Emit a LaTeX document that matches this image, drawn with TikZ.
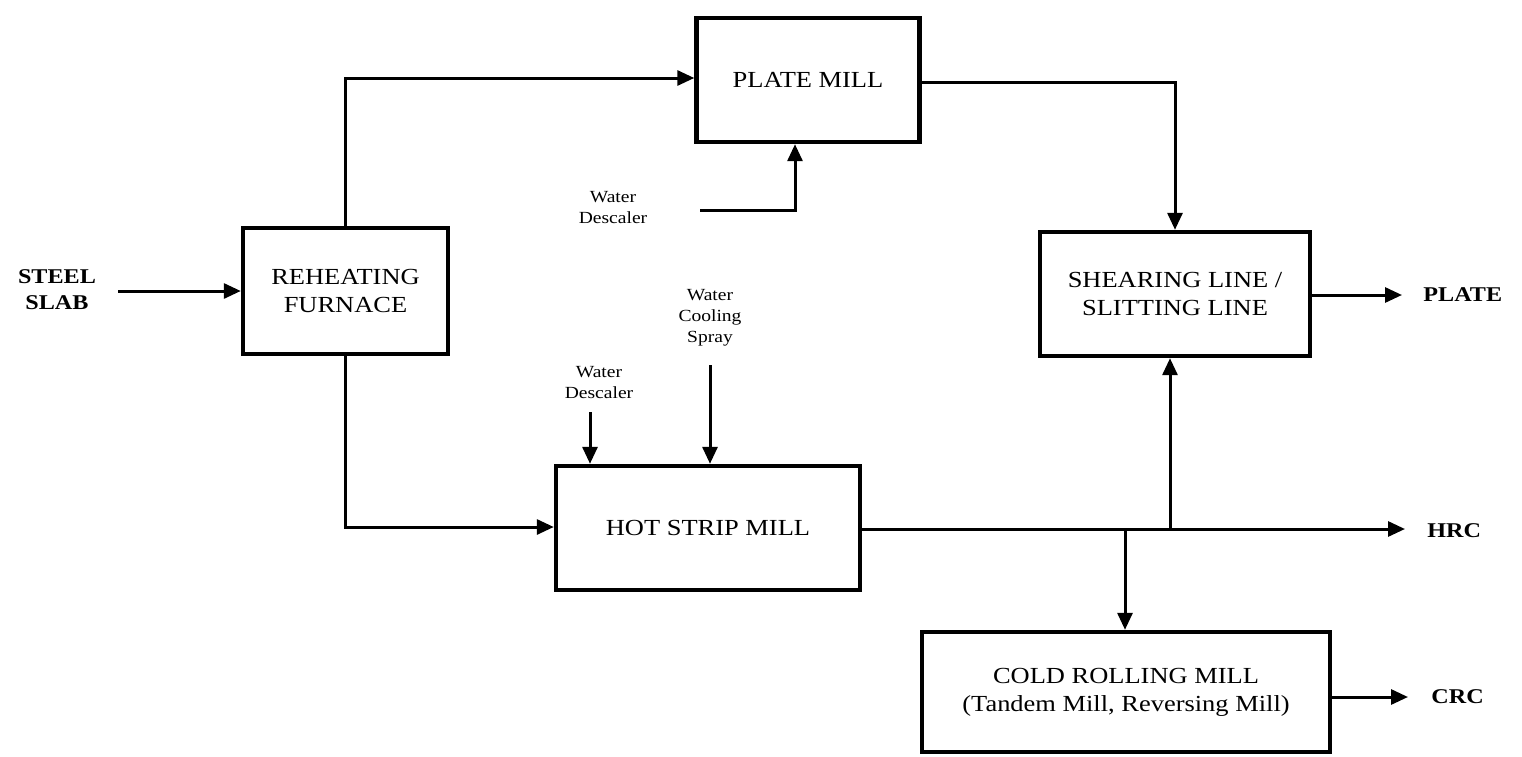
\documentclass[tikz,border=0pt]{standalone}
\usepackage{fontspec}
\setmainfont{Liberation Serif}[FakeStretch=1.15]
\usetikzlibrary{arrows.meta}
\begin{document}
\begin{tikzpicture}[x=0.5pt,y=-0.5pt,
  boxnode/.style={draw, line width=2.2pt, minimum width=#1, inner sep=0pt, align=center, font=\fontsize{11.5}{14}\selectfont},
  boxnode/.default={100pt},
  conn/.style={line width=1.5pt, -{Triangle[length=8.5pt,width=7.5pt]}},
  smalltxt/.style={align=center, font=\fontsize{8.5}{10.5}\selectfont, inner sep=0pt},
  outtxt/.style={align=center, font=\bfseries\fontsize{10.5}{13}\selectfont, inner sep=0pt}]
\useasboundingbox (0,0) rectangle (1522,756);
% boxes
\node[boxnode=111.5pt, minimum height=62pt] (pm) at (808,80) {PLATE MILL};
\node[boxnode=102.5pt, minimum height=63pt] (rf) at (345.5,291) {REHEATING\\FURNACE};
\node[boxnode=135pt, minimum height=62pt] (sl) at (1175,294) {SHEARING LINE /\\SLITTING LINE};
\node[boxnode=152pt, minimum height=62pt] (hs) at (708,528) {HOT STRIP MILL};
\node[boxnode=204pt, minimum height=60pt] (cr) at (1126,692) {COLD ROLLING MILL\\(Tandem Mill, Reversing Mill)};
% texts
\node[outtxt] (slab) at (57,290) {STEEL\\SLAB};
\node[outtxt, anchor=west] (plate) at (1423,295) {PLATE};
\node[outtxt, anchor=west] (hrc) at (1427,531) {HRC};
\node[outtxt, anchor=west] (crc) at (1431,697) {CRC};
\node[smalltxt] (wd1) at (613,208) {Water\\Descaler};
\node[smalltxt] (wcs) at (710,318) {Water\\Cooling\\Spray};
\node[smalltxt] (wd2) at (599,383) {Water\\Descaler};
% coordinates
\coordinate (slabs) at (118,291);
\coordinate (plateend) at (1402,295);
\coordinate (hrcend) at (1405,529);
\coordinate (crcend) at (1408,697);
\coordinate (wd1s) at (700,210);
\coordinate (wcss) at (710,365);
\coordinate (wd2s) at (590,412);
\coordinate (jhrc) at (1170,529);
\coordinate (jcr) at (1125,529);
% connectors
\draw[conn] (slabs) -- (rf.west |- slabs);
\draw[conn] (rf.north) |- (pm.west |- 0,78);
\draw[conn] (rf.south) |- (hs.west |- 0,527);
\draw[conn] (pm.east |- 0,82) -| (sl.north);
\draw[conn] (wd1s) -| (pm.south -| 795,0);
\draw[conn] (wcss) -- (hs.north -| wcss);
\draw[conn] (wd2s) -- (hs.north -| wd2s);
\draw[conn] (hs.east |- jhrc) -- (hrcend);
\draw[conn] (jhrc) -- (sl.south -| jhrc);
\draw[conn] (jcr) -- (cr.north -| jcr);
\draw[conn] (sl.east |- plateend) -- (plateend);
\draw[conn] (cr.east |- crcend) -- (crcend);
\end{tikzpicture}
\end{document}
